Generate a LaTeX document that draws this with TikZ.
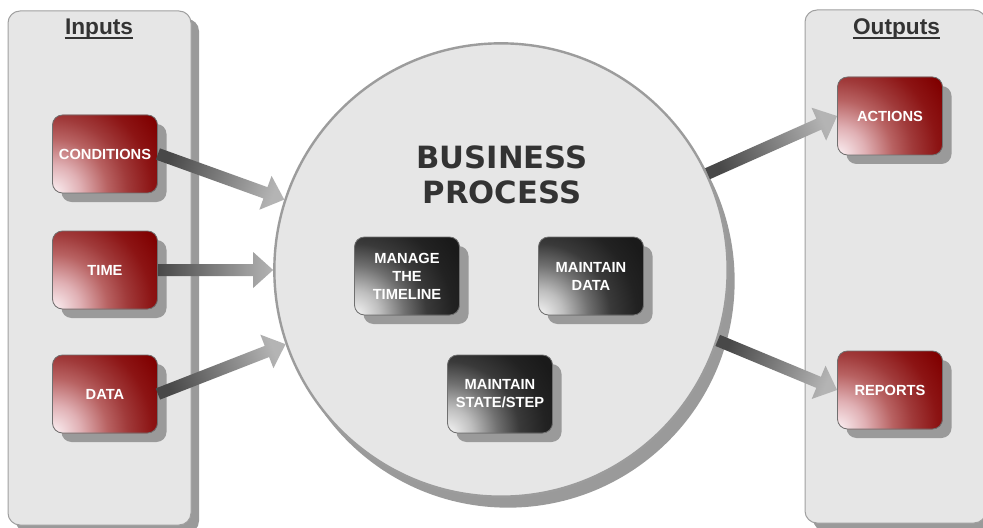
\documentclass[tikz,border=0pt]{standalone}
\usepackage{fontspec}
\setmainfont{Liberation Sans}
\newfontfamily\bpfont{DejaVu Sans}
\usetikzlibrary{calc,shadows}
\definecolor{panelfill}{HTML}{E6E6E6}
\definecolor{paneldraw}{HTML}{A0A0A0}
\definecolor{circdraw}{HTML}{9C9C9C}
\definecolor{shadowgray}{HTML}{9A9A9A}
\definecolor{titlegray}{HTML}{333333}
\definecolor{boxdraw}{HTML}{707070}
\definecolor{arrdark}{HTML}{484848}
\definecolor{arrlight}{HTML}{B4B4B4}
\definecolor{rA}{HTML}{FCF2F5}
\definecolor{rB}{HTML}{E0B0B4}
\definecolor{rC}{HTML}{B86262}
\definecolor{rD}{HTML}{A03A3A}
\definecolor{rE}{HTML}{8C1414}
\definecolor{rF}{HTML}{800000}
\definecolor{kA}{HTML}{F6F6F6}
\definecolor{kB}{HTML}{BEBEBE}
\definecolor{kC}{HTML}{707070}
\definecolor{kD}{HTML}{3A3A3A}
\definecolor{kE}{HTML}{222222}
\definecolor{kF}{HTML}{1A1A1A}
\pgfdeclareradialshading{redrad}{\pgfpoint{0bp}{0bp}}{color(0bp)=(rA); color(5.4bp)=(rB); color(10.6bp)=(rC); color(14.4bp)=(rD); color(19.2bp)=(rE); color(24bp)=(rF); color(50bp)=(rF)}
\pgfdeclareradialshading{darkrad}{\pgfpoint{0bp}{0bp}}{color(0bp)=(kA); color(4.8bp)=(kB); color(9.6bp)=(kC); color(13.8bp)=(kD); color(18.8bp)=(kE); color(23bp)=(kF); color(50bp)=(kF)}
\newcommand\fatarrow[3]{%
  \coordinate (fa-h) at ($(#2)!15pt!(#1)$);
  \shade[left color=arrdark, right color=arrlight, shading angle=#3]
    ($(#1)!4.5pt!90:(#2)$) -- ($(fa-h)!4.5pt!90:(#2)$) -- ($(fa-h)!13.5pt!90:(#2)$)
    -- (#2) -- ($(fa-h)!13.5pt!-90:(#2)$) -- ($(fa-h)!4.5pt!-90:(#2)$)
    -- ($(#1)!4.5pt!-90:(#2)$) -- cycle;
}
\begin{document}
\begin{tikzpicture}[x=0.75pt,y=-0.75pt,
  panel/.style={draw=paneldraw, fill=panelfill, rounded corners=9pt, line width=0.75pt,
    inner sep=0pt, drop shadow={shadow xshift=6pt, shadow yshift=-6pt, fill=shadowgray, opacity=1}},
  titletext/.style={anchor=base, inner sep=0pt, text=titlegray, font=\fontsize{17}{20}\selectfont\bfseries},
  boxbase/.style={draw=boxdraw, line width=0.6pt, rounded corners=7.5pt,
    minimum width=78.75pt, minimum height=58.5pt, inner sep=0pt, text=white, align=center,
    font=\fontsize{11}{13.5}\selectfont\bfseries,
    drop shadow={shadow xshift=6.75pt, shadow yshift=-6.75pt, fill=shadowgray, opacity=1}},
  redbox/.style={boxbase, fill=rF, path picture={\shade[shading=redrad] (path picture bounding box.south west) circle (97.5pt);}},
  darkbox/.style={boxbase, fill=kF, path picture={\shade[shading=darkrad] (path picture bounding box.south west) circle (97.5pt);}}]
\clip (0,0) rectangle (983,528);
\fill[white] (0,0) rectangle (983,528);
% panels
\node[panel, minimum width=137.25pt, minimum height=385.5pt] (inpanel) at (99.5,268) {};
\node[panel, minimum width=135.75pt, minimum height=384.75pt] (outpanel) at (895.5,266.5) {};
\node[titletext] (intitle) at (99,35) {Inputs};
\node[titletext] (outtitle) at (896.5,35) {Outputs};
\draw[titlegray, line width=1.5pt] ([yshift=-2.4pt]intitle.base west) -- ([yshift=-2.4pt]intitle.base east);
\draw[titlegray, line width=1.5pt] ([yshift=-2.4pt]outtitle.base west) -- ([yshift=-2.4pt]outtitle.base east);
% circle
\node[circle, draw=circdraw, line width=1.8pt, fill=panelfill, minimum size=340pt, inner sep=0pt,
  drop shadow={shadow xshift=5.25pt, shadow yshift=-8.25pt, fill=shadowgray, opacity=1}] (bp) at (501,270) {};
\node[align=center, text=titlegray, font=\bpfont\bfseries\fontsize{23}{26.25}\selectfont] (bptext) at (502,175) {BUSINESS\\PROCESS};
% boxes
\node[redbox] (cond) at (105,154) {CONDITIONS};
\node[redbox] (time) at (105,270) {TIME};
\node[redbox] (data) at (105,394) {DATA};
\node[redbox] (act) at (890,116) {ACTIONS};
\node[redbox] (rep) at (890,390) {REPORTS};
\node[darkbox] (mtl) at (407,276) {MANAGE\\THE\\TIMELINE};
\node[darkbox] (mdata) at (591,276) {MAINTAIN\\DATA};
\node[darkbox] (mstate) at (500,394) {MAINTAIN\\STATE/STEP};
% arrows
\fatarrow{cond.east}{bp.162}{70}
\fatarrow{time.east}{bp.180}{90}
\fatarrow{data.east}{bp.199}{111}
\fatarrow{bp.25}{act.west}{113.7}
\fatarrow{bp.-18}{rep.west}{67.8}
\end{tikzpicture}
\end{document}
